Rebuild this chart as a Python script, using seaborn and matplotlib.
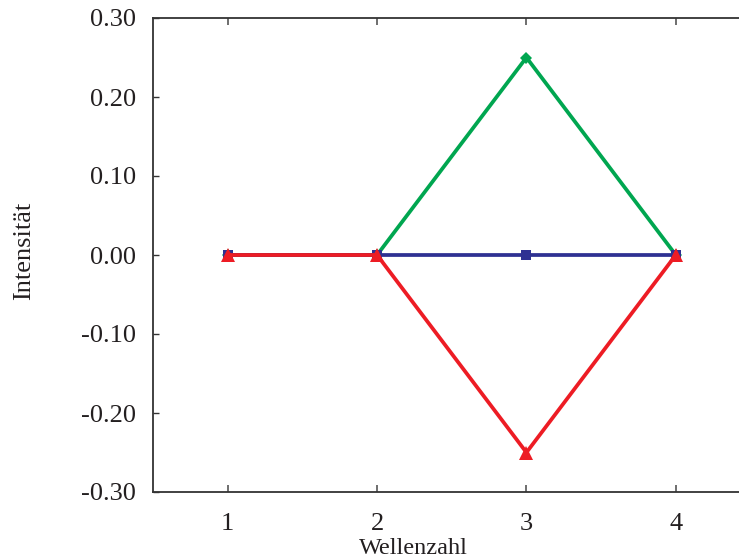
import matplotlib
matplotlib.use("Agg")
import matplotlib.pyplot as plt
import seaborn as sns
import pandas as pd
import numpy as np

wellenzahl = [1, 2, 3, 4]
series_green = [0.0, 0.0, 0.25, 0.0]
series_blue = [0.0, 0.0, 0.0, 0.0]
series_red = [0.0, 0.0, -0.25, 0.0]
series_names = ["grün", "blau", "rot"]
yticks = [-0.30, -0.20, -0.10, 0.00, 0.10, 0.20, 0.30]
xticks = [1, 2, 3, 4]

sns.set_theme(style="white")
plt.rcParams['font.family'] = ['Liberation Serif', 'DejaVu Serif']
plt.rcParams['mathtext.fontset'] = 'stix'

df = pd.DataFrame({
    "Wellenzahl": wellenzahl * 3,
    "Intensität": series_green + series_blue + series_red,
    "Serie": [series_names[0]] * 4 + [series_names[1]] * 4 + [series_names[2]] * 4,
})

palette = {"grün": "#00A650", "blau": "#2E3192", "rot": "#ED1C24"}
markers = {"grün": "D", "blau": "s", "rot": "^"}
sizes = {"grün": 6.5, "blau": 7.5, "rot": 10}

fig = plt.figure(figsize=(7.39, 5.59), dpi=100)
ax = fig.add_axes([153 / 739, 67 / 559, 597.5 / 739, 474 / 559])

for name in series_names:
    sub = df[df["Serie"] == name]
    sns.lineplot(data=sub, x="Wellenzahl", y="Intensität", color=palette[name],
                 marker=markers[name], markersize=sizes[name], markeredgewidth=0,
                 linewidth=2.7, ax=ax, legend=False, clip_on=False, zorder=3)

ax.set_xlim(0.5, 4.5)
ax.set_ylim(-0.30, 0.30)
ax.set_xticks(xticks)
ax.set_xticklabels([str(v) for v in xticks])
ax.set_yticks(yticks)
ax.set_yticklabels([f"{v:.2f}" for v in yticks])

for side in ["left", "bottom", "top", "right"]:
    ax.spines[side].set_color("#333333")
    ax.spines[side].set_linewidth(1.3)
    ax.spines[side].set_visible(True)

ax.tick_params(axis="x", direction="in", length=5, width=1.2, color="#555555",
               top=True, bottom=True, labelsize=19, pad=15, labelcolor="#231F20")
ax.tick_params(axis="y", direction="in", length=4, width=1.0, color="#333333",
               left=True, right=False, labelsize=19, pad=12, labelcolor="#231F20")

ax.set_xlabel("Wellenzahl", fontsize=17.5, color="#231F20")
ax.set_ylabel("Intensität", fontsize=19, color="#231F20")
ax.xaxis.set_label_coords(0.435, -0.097)
ax.yaxis.set_label_coords(-0.197, 0.508)
ax.grid(False)

fig.savefig("out.png", dpi=100)
